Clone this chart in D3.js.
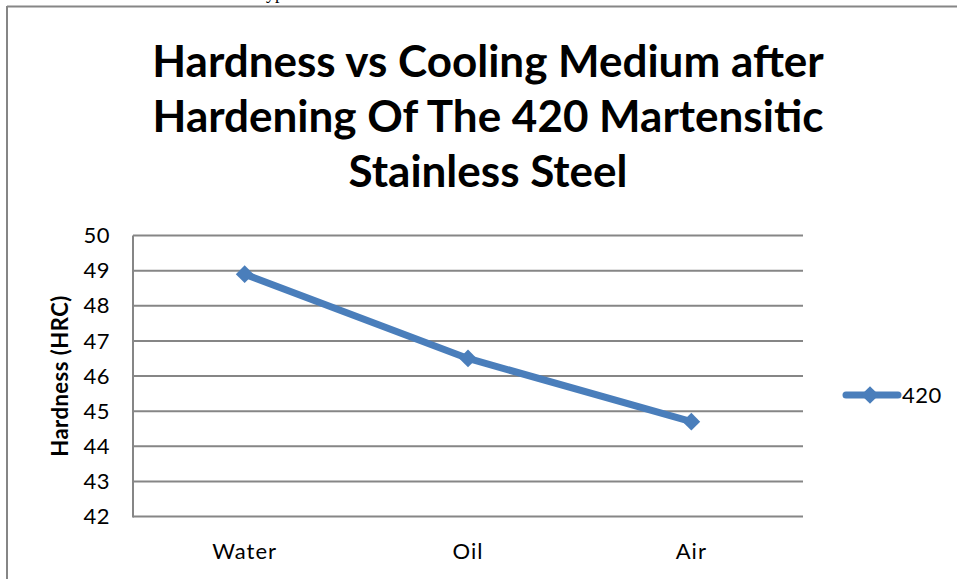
<!DOCTYPE html>
<html><head><meta charset="utf-8">
<script src="https://cdn.jsdelivr.net/npm/d3@7"></script>
<style>body{margin:0;background:#fff}svg{display:block}</style>
</head><body>
<svg id="c" width="957" height="579"></svg>
<script>
const categories = ["Water", "Oil", "Air"];
const hardness420 = [48.9, 46.5, 44.7];
const yTicks = [42, 43, 44, 45, 46, 47, 48, 49, 50];
const titleLines = ["Hardness vs Cooling Medium after", "Hardening Of The 420 Martensitic", "Stainless Steel"];
const seriesName = "420";
const yTitle = "Hardness (HRC)";

(function () {
const svg = d3.select("#c");
const font = "Lato, 'Open Sans', sans-serif";
const blue = "#4a7ebb";
const grid = "#868686";

// stray text fragment at top
svg.append("text").attr("x", 266).attr("y", -1).attr("font-family", "'Liberation Serif', serif")
  .attr("font-size", 18).attr("fill", "#000").text("yp");

// frame
svg.append("line").attr("x1", 7).attr("x2", 957).attr("y1", 6.5).attr("y2", 6.5).attr("stroke", grid).attr("stroke-width", 2);
svg.append("line").attr("x1", 7).attr("x2", 7).attr("y1", 6).attr("y2", 579).attr("stroke", grid).attr("stroke-width", 2);

const pLeft = 133, pRight = 803, pTop = 235.5, pBottom = 516.5;
const x = d3.scaleBand().domain(categories).range([pLeft, pRight]);
const y = d3.scaleLinear().domain([42, 50]).range([pBottom, pTop]);

// gridlines
svg.append("g").selectAll("line").data(yTicks).join("line")
  .attr("x1", pLeft).attr("x2", pRight).attr("y1", d => y(d)).attr("y2", d => y(d))
  .attr("stroke", grid).attr("stroke-width", 2);
// y axis line
svg.append("line").attr("x1", pLeft).attr("x2", pLeft).attr("y1", pTop).attr("y2", pBottom + 1)
  .attr("stroke", grid).attr("stroke-width", 2);

// y tick labels
svg.append("g").selectAll("text").data(yTicks).join("text")
  .attr("x", 110).attr("y", d => y(d)).attr("dy", "0.35em").attr("text-anchor", "end")
  .attr("font-family", font).attr("font-size", 22).attr("letter-spacing", 0.5).attr("fill", "#000").text(d => d);

// x labels
svg.append("g").selectAll("text").data(categories).join("text")
  .attr("x", d => x(d) + x.bandwidth() / 2).attr("y", 559).attr("text-anchor", "middle")
  .attr("font-family", font).attr("font-size", 22).attr("letter-spacing", 1).attr("fill", "#000").text(d => d);

// y title
svg.append("text").attr("transform", `translate(68,${(pTop + pBottom) / 2}) rotate(-90)`)
  .attr("text-anchor", "middle").attr("font-family", font).attr("font-weight", "bold")
  .attr("font-size", 22).attr("letter-spacing", 0.5).attr("fill", "#000").text(yTitle);

// title
svg.append("g").selectAll("text").data(titleLines).join("text")
  .attr("x", 488).attr("y", (d, i) => 77 + i * 55).attr("text-anchor", "middle")
  .attr("font-family", font).attr("font-weight", "bold").attr("font-size", 44).attr("fill", "#000").text(d => d);

// line
const pts = categories.map((c, i) => [x(c) + x.bandwidth() / 2, y(hardness420[i])]);
svg.append("path").attr("d", d3.line()(pts)).attr("fill", "none").attr("stroke", blue)
  .attr("stroke-width", 7).attr("stroke-linejoin", "round").attr("stroke-linecap", "round");
const diamond = d3.symbol().type(d3.symbolDiamond2).size(200);
svg.append("g").selectAll("path").data(pts).join("path")
  .attr("transform", d => `translate(${d[0]},${d[1]})`).attr("d", diamond).attr("fill", blue);

// legend
const ly = 395;
svg.append("line").attr("x1", 846).attr("x2", 898).attr("y1", ly).attr("y2", ly)
  .attr("stroke", blue).attr("stroke-width", 7).attr("stroke-linecap", "round");
svg.append("path").attr("transform", `translate(870,${ly})`).attr("d", diamond).attr("fill", blue);
svg.append("text").attr("x", 902).attr("y", ly).attr("dy", "0.35em").attr("font-family", font)
  .attr("font-size", 22).attr("letter-spacing", 0.5).attr("fill", "#000").text(seriesName);
})();
</script>
</body></html>
